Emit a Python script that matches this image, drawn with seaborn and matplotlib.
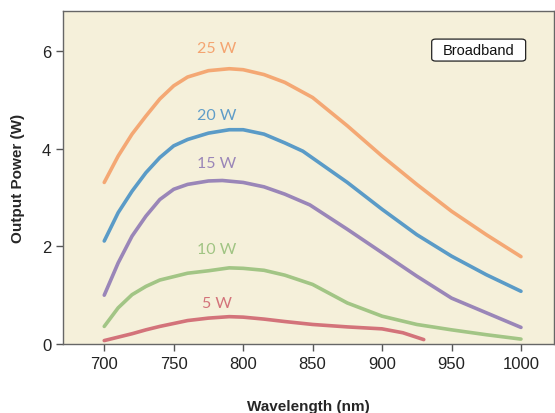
import pandas as pd
import matplotlib
matplotlib.use("Agg")
import matplotlib.pyplot as plt
from matplotlib.patches import FancyBboxPatch
import seaborn as sns

# valores (longitud de onda en nm, potencia en W)
wl_25 = [700, 710, 720, 730, 740, 750, 760, 775, 790, 800, 815, 830, 850,
         875, 900, 925, 950, 975, 1000]
p_25 = [3.31, 3.85, 4.30, 4.67, 5.02, 5.29, 5.47, 5.60, 5.64, 5.62, 5.52, 5.36, 5.05,
        4.47, 3.85, 3.27, 2.72, 2.24, 1.79]

wl_20 = [700, 710, 720, 730, 740, 750, 760, 775, 790, 800, 815, 830, 843,
         875, 900, 925, 950, 975, 1000]
p_20 = [2.11, 2.69, 3.13, 3.51, 3.82, 4.06, 4.19, 4.32, 4.39, 4.39, 4.30, 4.12, 3.95,
        3.31, 2.76, 2.24, 1.80, 1.42, 1.08]

wl_15 = [700, 710, 720, 730, 740, 750, 760, 775, 785, 800, 815, 830, 848,
         875, 900, 925, 950, 975, 1000]
p_15 = [1.00, 1.66, 2.21, 2.62, 2.96, 3.17, 3.27, 3.34, 3.35, 3.31, 3.22, 3.07, 2.85,
        2.35, 1.87, 1.39, 0.94, 0.64, 0.34]

wl_10 = [700, 710, 720, 730, 740, 750, 760, 775, 790, 800, 815, 830, 850,
         875, 900, 925, 950, 975, 1000]
p_10 = [0.36, 0.74, 1.01, 1.18, 1.31, 1.38, 1.45, 1.50, 1.56, 1.55, 1.51, 1.41, 1.22,
        0.84, 0.57, 0.40, 0.29, 0.19, 0.10]

wl_5 = [700, 710, 720, 730, 740, 750, 760, 775, 790, 800, 815, 830, 850,
        875, 900, 915, 930]
p_5 = [0.07, 0.14, 0.21, 0.29, 0.36, 0.42, 0.48, 0.53, 0.56, 0.55, 0.51, 0.46, 0.40,
       0.35, 0.31, 0.23, 0.09]

series = ["25 W", "20 W", "15 W", "10 W", "5 W"]
colores = ["#F4A874", "#5A9BC7", "#9A86B8", "#A2C585", "#D3737A"]
colores_texto = ["#F4A470", "#5F9DC8", "#9A86B8", "#A0C483", "#D3737A"]
etiqueta_x = [781, 781, 781, 781, 781]
etiqueta_y = [6.06, 4.69, 3.70, 1.94, 0.83]

# armar el DataFrame largo
partes = []
for nombre, wl, p in zip(series, [wl_25, wl_20, wl_15, wl_10, wl_5],
                         [p_25, p_20, p_15, p_10, p_5]):
    partes.append(pd.DataFrame({"wavelength": wl, "power": p, "serie": nombre}))
df = pd.concat(partes, ignore_index=True)

sns.set_style("ticks")
plt.rcParams["font.family"] = ["Liberation Sans Narrow", "Liberation Sans", "DejaVu Sans"]

fig = plt.figure(figsize=(5.55, 4.14), dpi=100)
ax = fig.add_axes([0.1135, 0.1667, 0.884, 0.804])
ax.set_facecolor("#F5F0DA")

sns.lineplot(data=df, x="wavelength", y="power", hue="serie", hue_order=series,
             palette=dict(zip(series, colores)), linewidth=2.6, sort=False,
             legend=False, ax=ax, solid_capstyle="round", solid_joinstyle="round")

for nombre, c, tx, ty in zip(series, colores_texto, etiqueta_x, etiqueta_y):
    ax.text(tx, ty, nombre, color=c, fontsize=11.5, ha="center", va="center",
            family=["Lato", "DejaVu Sans"])

# recuadro "Broadband"
caja = FancyBboxPatch((0.7515, 0.850), 0.1915, 0.066, transform=ax.transAxes,
                      boxstyle="round,pad=0,rounding_size=0.008", fc="white",
                      ec="#222222", lw=0.9, zorder=5)
ax.add_patch(caja)
ax.text(0.847, 0.883, "Broadband", transform=ax.transAxes, fontsize=10.5,
        ha="center", va="center", color="#111111", zorder=6)

ax.set_xlim(670.3, 1023.5)
ax.set_ylim(0, 6.82)
ax.set_xticks([700, 750, 800, 850, 900, 950, 1000])
ax.set_yticks([0, 2, 4, 6])
ax.tick_params(axis="both", labelsize=12, color="#555555", labelcolor="#222222",
               length=5, width=1)
for lado in ["left", "bottom", "top", "right"]:
    ax.spines[lado].set_visible(True)
    ax.spines[lado].set_color("#666666")
    ax.spines[lado].set_linewidth(1)

ax.set_xlabel("Wavelength (nm)", fontsize=11, fontweight="bold", labelpad=20)
ax.set_ylabel("Output Power (W)", fontsize=11, fontweight="bold", labelpad=12)

fig.savefig("out.png", dpi=100)
